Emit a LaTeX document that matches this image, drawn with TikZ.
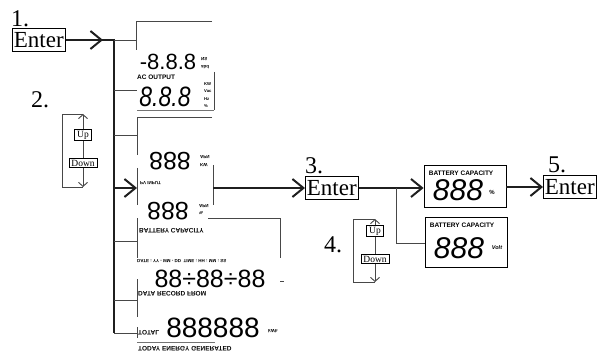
\documentclass[tikz,border=0pt]{standalone}
\usepackage{fontspec}
\setmainfont{Liberation Serif}
\newfontfamily\lcdsans{Liberation Sans}
\newfontfamily\lcdnarrow[FakeStretch=0.82]{Liberation Sans}
\usetikzlibrary{arrows.meta}
\tikzset{
  enterbox/.style={draw, line width=0.8pt, font=\fontsize{23}{23}\selectfont, inner xsep=1.5pt, inner ysep=0pt, minimum height=23pt},
  numlbl/.style={font=\fontsize{24}{24}\selectfont, inner sep=0pt},
  udbox/.style={draw, line width=0.6pt, font=\fontsize{9.5}{10}\selectfont, inner xsep=2.5pt, inner ysep=1.2pt, fill=white},
  mainln/.style={line width=2pt, draw=black!88},
  vline/.style={line width=2.6pt, draw=black!88},
  thinln/.style={line width=0.9pt, draw=black!72},
  chev/.style={-{Straight Barb[length=11pt,width=18pt]}},
  smallchev/.style={-{Straight Barb[length=4pt,width=9pt]}},
  lcdbig/.style={font=\lcdsans\itshape\fontsize{30}{30}\selectfont, inner sep=0pt},
  lcdup/.style={font=\lcdsans\fontsize{25}{25}\selectfont, inner sep=0pt},
  lcdlbl/.style={font=\lcdsans\bfseries\fontsize{6.5}{7}\selectfont, inner sep=0pt},
  lcdtiny/.style={font=\lcdsans\bfseries\fontsize{4.5}{5}\selectfont, inner sep=0pt},
  unitstack/.style={font=\lcdsans\bfseries\fontsize{4.2}{4.5}\selectfont, inner sep=0pt, anchor=west},
  batbox/.style={draw, line width=0.8pt, minimum width=82pt, inner sep=0pt}
}
\newcommand{\flipv}[1]{\scalebox{1}[-1]{#1}}
\begin{document}
\begin{tikzpicture}[x=1pt,y=-1pt]
\useasboundingbox (0,0) rectangle (604,355);

% ---------- step 1 ----------
\node[enterbox, anchor=west] (e1) at (12,40) {Enter};
\node[numlbl, anchor=south west] (n1) at (11,27) {1.};
\coordinate (j0) at (114,40);
\coordinate (jend) at (114,333);
\draw[mainln] (e1.east) -- (j0);
\draw[mainln, chev] (e1.east) -- (103,40);
\draw[vline] (114,39) -- (jend);

% ---------- step 2 ----------
\node[numlbl, anchor=west] (n2) at (31,100) {2.};
\node[udbox] (up2) at (83,135) {Up};
\node[udbox] (down2) at (83,163) {Down};
\coordinate (t2) at (83,114);
\coordinate (b2) at (83,187);
\draw[thinln, smallchev] (up2.north) -- (t2);
\draw[thinln, smallchev] (down2.south) -- (b2);
\draw[thinln] (up2.south) -- (down2.north);
\draw[thinln] (t2) -- (62,114) -- (62,187) -- (b2);

% ---------- LCD column ----------
% A
\coordinate (ja) at (114,40);
\coordinate (la) at (136,40);
\draw[thinln] (ja) -- (la);
\draw[thinln] (212,21) -- (136,21) -- (136,50);
\node[lcdup, font=\lcdsans\fontsize{22}{22}\selectfont] (da) at (168,62) {-8.8.8};
\node[lcdtiny, anchor=west] (ua1) at (201,59) {\flipv{NS}};
\node[lcdtiny, anchor=west] (ua2) at (201,67) {\flipv{abd}};
% AC output
\coordinate (jb) at (114,90);
\coordinate (lb) at (137,90);
\draw[thinln] (jb) -- (lb);
\node[lcdlbl, anchor=west] (acl) at (137,77) {AC OUTPUT};
\node[lcdbig, font=\lcdnarrow\itshape\fontsize{28}{28}\selectfont] (acd) at (165,97) {8.8.8};
\node[unitstack] (acu1) at (204,84) {KW};
\node[unitstack] (acu2) at (204,91.5) {Vac};
\node[unitstack] (acu3) at (204,99) {Hz};
\node[unitstack] (acu4) at (204,106.5) {\%};
\draw[thinln] (214,72) -- (214,110);
\draw[thin, black!55] (137,110) -- (214,110);
% B : PV input
\coordinate (jc) at (114,135);
\coordinate (lc) at (137,135);
\draw[thinln] (jc) -- (lc);
\draw[thinln] (212,117) -- (137,117) -- (137,155);
\node[lcdup] (pvd) at (170,161) {\flipv{888}};
\node[lcdtiny, anchor=west] (pvu1) at (200,157) {\flipv{APN}};
\node[lcdtiny, anchor=west] (pvu2) at (200,165) {\flipv{KW}};
\node[lcdtiny, anchor=west] (pvl) at (140,183) {\flipv{PV INPUT}};
\draw[thinln] (137,168) -- (137,205);
\draw[thinln] (213,165) -- (213,205);
\coordinate (jpv) at (114,188);
\coordinate (pvin) at (137,188);
\draw[mainln, chev] (jpv) -- (pvin);
% C : battery
\coordinate (jd) at (114,241);
\coordinate (ld) at (137,241);
\draw[thinln] (jd) -- (ld);
\draw[thinln] (137,218) -- (137,258);
\node[lcdup] (btd) at (168,211) {\flipv{888}};
\node[lcdtiny, anchor=west] (btu1) at (199,206) {\flipv{APN}};
\node[lcdtiny, anchor=west] (btu2) at (199,213) {\flipv{\%}};
\draw[thinln] (208,218) -- (280,218) -- (280,258);
\node[lcdlbl, anchor=west] (btl) at (139,231) {\flipv{BATTERY CAPACITY}};
\node[lcdtiny, anchor=west] (dtl) at (137,261) {\flipv{DATE : YY - MM - DD\ \ TIME : HH : MM : SS}};
% D : data record
\coordinate (je) at (114,300);
\coordinate (le) at (137,300);
\draw[thinln] (je) -- (le);
\draw[thinln] (137,279) -- (137,317);
\node[lcdup] (drd) at (210,279) {88÷88÷88};
\draw[thinln] (280,281) -- (284,281);
\node[lcdlbl, anchor=west] (drl) at (138,294) {\flipv{DATA RECORD FROM}};
% E : total energy
\coordinate (le2) at (137,333);
\draw[thinln] (jend) -- (le2);
\draw[thinln] (137,327) -- (137,338);
\node[lcdlbl, anchor=west] (tol) at (138,333) {\flipv{TOTAL}};
\node[lcdup, font=\lcdsans\fontsize{28}{28}\selectfont] (tod) at (213,328) {888888};
\node[lcdtiny, anchor=west] (tou) at (268,331) {\flipv{kWh}};
\draw[thin, black!55] (137,342) -- (215,342);
\node[lcdlbl, anchor=west] (tgl) at (138,349) {\flipv{TODAY ENERGY GENERATED}};

% ---------- step 3 ----------
\node[enterbox, anchor=west] (e3) at (305,188) {Enter};
\node[numlbl, anchor=south west] (n3) at (305,174) {3.};
\coordinate (pvout) at (213,188);
\draw[mainln, chev] (pvout) -- (e3.west);

% battery boxes
\node[batbox, minimum height=42pt] (bc1) at (465,186) {};
\node[lcdlbl, anchor=north west] (bl1) at ([xshift=5pt,yshift=-6pt]bc1.north west) {BATTERY CAPACITY};
\node[lcdbig] (bd1) at ([xshift=-7pt,yshift=-4pt]bc1.center) {888};
\node[lcdtiny, font=\lcdsans\bfseries\fontsize{6}{6}\selectfont] (bu1) at ([xshift=27pt,yshift=-6pt]bc1.center) {\%};

\node[batbox, minimum height=50pt] (bc2) at (466,242) {};
\node[lcdlbl, anchor=north west] (bl2) at ([xshift=5pt,yshift=-6pt]bc2.north west) {BATTERY CAPACITY};
\node[lcdbig] (bd2) at ([xshift=-7pt,yshift=-6pt]bc2.center) {888};
\node[lcdtiny, font=\lcdsans\bfseries\itshape\fontsize{5.5}{6}\selectfont] (bu2) at ([xshift=31pt,yshift=-6pt]bc2.center) {Volt};

\coordinate (jbat) at (396,188);
\draw[mainln, chev] (e3.east) -- (bc1.west |- e3.east);
\draw[thinln] (jbat) -- (396,243) -- (bc2.west |- 0,243);

% ---------- step 4 ----------
\node[numlbl, anchor=west] (n4) at (324,245) {4.};
\node[udbox] (up4) at (375,231) {Up};
\node[udbox] (down4) at (375,259) {Down};
\coordinate (t4) at (375,219);
\coordinate (b4) at (375,282);
\draw[thinln, smallchev] (up4.north) -- (t4);
\draw[thinln, smallchev] (down4.south) -- (b4);
\draw[thinln] (up4.south) -- (down4.north);
\draw[thinln] (t4) -- (353,219) -- (353,282) -- (b4);

% ---------- step 5 ----------
\node[enterbox, anchor=west] (e5) at (543,187) {Enter};
\node[numlbl, anchor=south west] (n5) at (548,173) {5.};
\draw[mainln, chev] (bc1.east |- e5.west) -- (e5.west);
\end{tikzpicture}
\end{document}
